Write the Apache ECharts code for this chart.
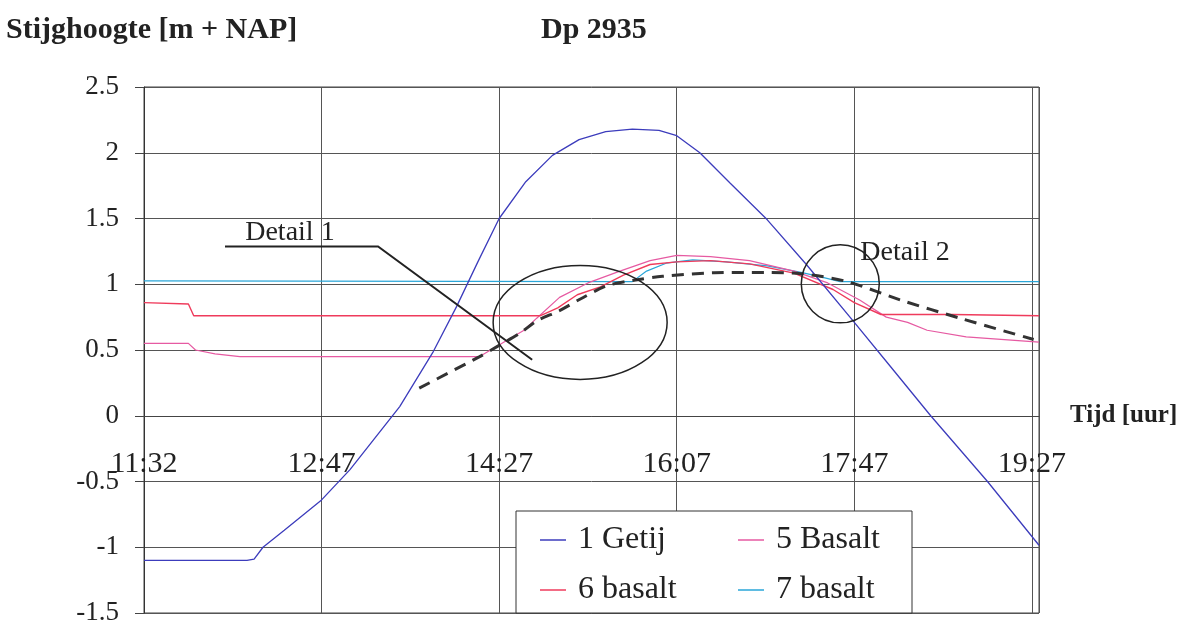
<!DOCTYPE html>
<html>
<head>
<meta charset="utf-8">
<script src="https://cdn.jsdelivr.net/npm/echarts@6/dist/echarts.min.js"></script>
<style>
html,body{margin:0;padding:0;background:#fff}
#chart{width:1192px;height:624px}
</style>
</head>
<body>
<div id="chart"></div>
<script>
// x is measured in label steps (0 = 11:32, 1 = 12:47, ...), as on the Excel category axis
const timeLabels = ['11:32', '12:47', '14:27', '16:07', '17:47', '19:27']

const getij = [[0,-1.10],[0.58,-1.10],[0.62,-1.09],[0.67,-1.00],[0.79,-0.87],[1.0,-0.64],[1.16,-0.41],
  [1.30,-0.17],[1.44,0.07],[1.63,0.49],[1.76,0.83],[1.88,1.17],[2.0,1.50],[2.15,1.78],[2.30,1.98],
  [2.45,2.10],[2.60,2.16],[2.75,2.18],[2.90,2.17],[3.0,2.13],[3.13,2.0],[3.30,1.77],[3.51,1.49],
  [3.73,1.15],[4.0,0.71],[4.20,0.38],[4.43,0.0],[4.75,-0.5],[5.04,-0.985]]

const basalt5 = [[0,0.55],[0.25,0.55],[0.29,0.50],[0.40,0.47],[0.54,0.45],[1.0,0.45],[1.89,0.45],
  [1.99,0.53],[2.14,0.65],[2.21,0.74],[2.34,0.90],[2.50,1.01],[2.68,1.10],[2.85,1.18],[3.0,1.22],
  [3.19,1.21],[3.41,1.18],[3.66,1.10],[3.85,1.01],[4.03,0.88],[4.18,0.75],[4.30,0.71],[4.41,0.65],
  [4.63,0.60],[5.04,0.56]]

const basalt6 = [[0,0.86],[0.25,0.85],[0.28,0.76],[2.23,0.76],[2.33,0.82],[2.44,0.92],[2.57,0.98],
  [2.70,1.07],[2.85,1.15],[3.0,1.17],[3.19,1.18],[3.41,1.155],[3.66,1.085],[3.88,0.96],[4.0,0.86],
  [4.15,0.77],[4.30,0.77],[4.55,0.77],[5.04,0.76]]

const basalt7 = [[0,1.025],[2.75,1.02],[2.83,1.10],[2.94,1.16],[3.09,1.186],[3.28,1.17],[3.51,1.14],
  [3.70,1.09],[3.80,1.06],[3.92,1.02],[5.04,1.02]]

const trend = [[1.55,0.21],[1.89,0.45],[2.0,0.535],[2.12,0.63],[2.21,0.72],[2.34,0.80],[2.46,0.89],
  [2.61,0.99],[2.76,1.03],[2.92,1.06],[3.21,1.087],[3.50,1.09],[3.70,1.08],[3.96,1.02],[4.26,0.88],
  [4.60,0.74],[5.01,0.58]]

const serif = '"Liberation Serif", "DejaVu Serif", serif'
const ink = '#222'

const gridTop = 87, gridBottom = 11
const yMin = -1.5, yMax = 2.5
// the time axis sits on y = 0, like Excel's "axis crosses at 0"
const plotHeight = 624 - gridTop - gridBottom
const zeroOffset = -plotHeight * (0 - yMin) / (yMax - yMin)

const chart = echarts.init(document.getElementById('chart'))

function line(name, data, color, width) {
  return {
    name: name, type: 'line', data: data, showSymbol: false, silent: true,
    lineStyle: {color: color, width: width}, itemStyle: {color: color}
  }
}

function timeLabel(v) {
  const i = Math.round(Number(v))
  return Math.abs(Number(v) - i) < 1e-6 && timeLabels[i] ? timeLabels[i] : ''
}

const option = {
  animation: false,
  title: [
    {text: 'Stijghoogte [m + NAP]', left: 6, top: 15, padding: 0,
      textStyle: {fontFamily: serif, fontWeight: 'bold', fontSize: 30, color: ink}},
    {text: 'Dp 2935', left: 541, top: 15, padding: 0,
      textStyle: {fontFamily: serif, fontWeight: 'bold', fontSize: 30, color: ink}}
  ],
  grid: {left: 144, top: gridTop, right: 153, bottom: gridBottom, outerBoundsMode: 'none', containLabel: false,
    show: true, borderColor: '#444', borderWidth: 1},
  legend: [
    {data: ['1 Getij', '6 basalt'], orient: 'vertical', left: 540, top: 524, padding: 0, itemGap: 18,
      icon: 'rect', itemWidth: 26, itemHeight: 1.5,
      textStyle: {fontFamily: serif, fontSize: 32, color: ink, padding: [0, 0, 0, 7]}},
    {data: ['5 Basalt', '7 basalt'], orient: 'vertical', left: 738, top: 524, padding: 0, itemGap: 18,
      icon: 'rect', itemWidth: 26, itemHeight: 1.5,
      textStyle: {fontFamily: serif, fontSize: 32, color: ink, padding: [0, 0, 0, 7]}}
  ],
  xAxis: {
    type: 'value', min: 0, max: 5.04, interval: 1,
    position: 'bottom', offset: zeroOffset,
    name: 'Tijd [uur]', nameLocation: 'end', nameGap: 31,
    nameTextStyle: {fontFamily: serif, fontWeight: 'bold', fontSize: 25, color: ink, verticalAlign: 'middle'},
    axisLine: {onZero: false, lineStyle: {color: '#444'}},
    axisTick: {show: false},
    splitLine: {lineStyle: {color: '#555', width: 1}},
    axisLabel: {
      show: true, hideOverlap: false, showMinLabel: true, showMaxLabel: true,
      margin: 33, fontFamily: serif, fontSize: 30, color: ink,
      formatter: timeLabel
    }
  },
  yAxis: {
    type: 'value', min: yMin, max: yMax, interval: 0.5,
    axisLine: {show: true, onZero: false, lineStyle: {color: '#333'}},
    axisTick: {show: true, length: 9, lineStyle: {color: '#444'}},
    splitLine: {lineStyle: {color: '#555', width: 1}},
    axisLabel: {margin: 25, fontFamily: serif, fontSize: 27, color: ink}
  },
  series: [
    line('7 basalt', basalt7, '#2aa6d8', 1.2),
    line('5 Basalt', basalt5, '#e65aa2', 1.2),
    line('6 basalt', basalt6, '#ef3b5c', 1.4),
    line('1 Getij', getij, '#3c3cbc', 1.3),
    {
      name: 'trend', type: 'line', data: trend, showSymbol: false, silent: true, smooth: 0.3,
      lineStyle: {color: '#333', width: 3, type: [12, 8]}, z: 5
    }
  ]
}

chart.setOption(option)

// annotation anchors in data units
const detail1Leader = [[0.456, 1.287], [1.318, 1.287], [2.186, 0.426]]
const detail1Text = [0.57, 1.39]
const detail2Text = [4.034, 1.239]
const ring1 = [2.456, 0.71]
const ring2 = [3.921, 1.003]

const px = p => chart.convertToPixel({gridIndex: 0}, p)
const r1 = px(ring1), r2 = px(ring2), t1 = px(detail1Text), t2 = px(detail2Text)
const outline = {fill: 'none', stroke: ink, lineWidth: 1.5}
const labelStyle = (t, p) => ({text: t, x: p[0], y: p[1], fontFamily: serif, fontSize: 28,
  fill: ink, verticalAlign: 'middle'})

chart.setOption({
  graphic: [
    {type: 'rect', z: 3, shape: {x: 516, y: 511, width: 396, height: 102},
      style: {fill: '#fff', stroke: '#333', lineWidth: 1}},
    {type: 'ellipse', z: 10, shape: {cx: r1[0], cy: r1[1], rx: 87, ry: 57}, style: outline},
    {type: 'circle', z: 10, shape: {cx: r2[0], cy: r2[1], r: 39}, style: outline},
    {type: 'polyline', z: 10, shape: {points: detail1Leader.map(px)},
      style: {fill: 'none', stroke: ink, lineWidth: 2}},
    {type: 'text', z: 10, style: labelStyle('Detail 1', t1)},
    {type: 'text', z: 10, style: labelStyle('Detail 2', t2)}
  ]
})

window.addEventListener('resize', function () {
  chart.resize()
})
</script>
</body>
</html>
